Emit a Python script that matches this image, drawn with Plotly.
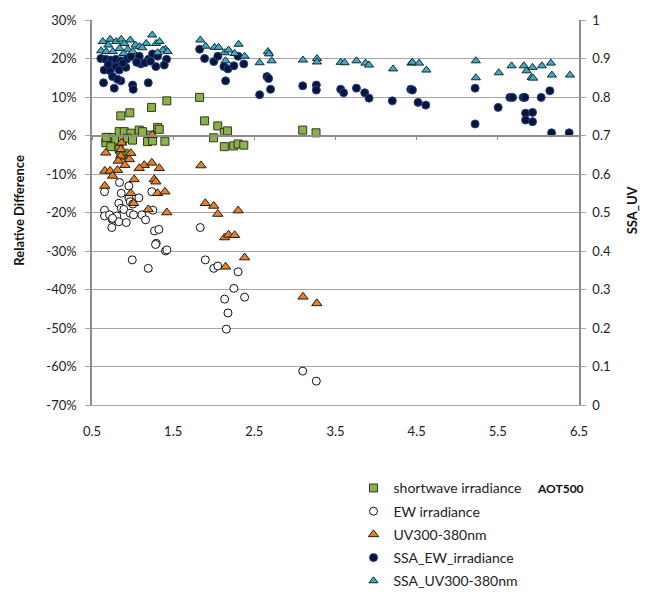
import plotly.graph_objects as go

# ---- data ----
sw_x = [0.855,0.966,1.234,1.422,0.835,0.897,0.978,1.082,1.123,1.225,1.308,1.329,0.691,0.74,0.793,0.876,0.938,0.999,1.184,1.246,1.398,0.67,0.732,0.835,0.897,0.855,0.675,1.826,1.887,2.05,1.998,2.13,2.17,2.13,2.245,2.30,2.37,3.096,3.26]
sw_y = [5.1,5.9,7.3,9.0,1.0,1.0,0.6,1.4,1.0,0.1,2.1,1.6,-0.5,-0.5,-1.2,-1.0,-0.7,-1.2,-1.6,-1.4,-1.5,-1.9,-2.9,-3.6,-4.6,-5.3,-0.5,9.9,3.8,2.5,-0.6,0.8,1.2,-2.9,-2.7,-2.2,-2.5,1.4,0.7]

ew_x = [0.654,0.839,0.954,0.86,1.077,0.954,0.971,0.83,0.86,0.892,1.003,1.237,1.25,0.654,0.654,0.716,0.749,0.806,0.83,0.922,0.744,0.971,1.012,1.114,1.16,1.27,1.324,1.292,1.283,1.406,1.422,0.996,1.193,0.753,1.834,1.896,2.0,2.05,2.30,2.248,2.134,2.38,2.175,2.155,3.096,3.264]
ew_y = [-14.6,-12.2,-13.1,-15.0,-16.2,-16.2,-17.2,-17.6,-18.9,-19.2,-17.8,-14.6,-19.4,-19.4,-20.9,-20.6,-21.8,-20.9,-22.4,-22.6,-23.9,-20.2,-20.6,-20.6,-21.9,-24.8,-24.4,-28.0,-28.3,-30.0,-29.7,-32.3,-34.5,-21.5,-23.9,-32.3,-34.5,-33.9,-35.4,-39.7,-42.5,-42.0,-46.1,-50.3,-61.2,-63.8]

uv_x = [0.864,1.242,0.67,0.855,0.978,0.855,0.823,0.959,0.905,1.144,1.237,1.082,1.329,0.658,0.724,0.814,0.753,1.02,1.267,1.287,1.842,0.658,0.978,1.308,1.398,1.012,1.193,1.422,1.896,2.0,2.05,2.30,2.134,2.183,2.257,2.38,2.146,3.10,3.27]
uv_y = [-1.9,0.1,-4.5,-3.6,-4.6,-5.3,-6.6,-6.2,-7.7,-7.7,-7.1,-8.5,-8.5,-9.2,-9.2,-9.0,-10.5,-11.4,-11.4,-12.0,-7.8,-13.1,-15.0,-15.0,-14.6,-17.6,-19.2,-20.0,-17.6,-18.3,-20.4,-19.5,-26.5,-25.8,-25.9,-31.7,-34.1,-41.9,-43.6]

ssa_ew_x = [0.609,0.67,0.732,0.793,0.855,0.929,0.978,1.082,1.197,1.246,1.308,1.419,0.65,0.724,0.793,0.835,0.917,1.102,1.151,1.287,1.39,0.753,0.855,0.814,0.642,0.774,1.0,1.008,1.193,0.70,0.88,1.05,1.22,
            1.826,1.887,2.0,2.05,2.125,2.175,2.248,2.30,2.37,2.146,2.565,2.655,2.676,2.70,3.096,3.264,3.264,3.564,3.60,3.758,3.86,3.913,4.20,4.427,4.448,4.517,4.612,5.22,5.22,5.504,5.648,5.681,5.812,5.833,5.842,5.928,5.842,5.928,6.034,6.141,6.162,6.379]
ssa_ew_y = [0.900,0.898,0.896,0.898,0.894,0.898,0.905,0.906,0.898,0.912,0.906,0.898,0.870,0.868,0.879,0.870,0.877,0.886,0.889,0.879,0.883,0.853,0.842,0.846,0.837,0.823,0.831,0.820,0.837,0.885,0.888,0.890,0.893,
            0.924,0.900,0.892,0.906,0.879,0.873,0.881,0.906,0.886,0.842,0.806,0.853,0.848,0.820,0.829,0.831,0.818,0.820,0.811,0.823,0.811,0.797,0.790,0.820,0.818,0.786,0.779,0.823,0.730,0.773,0.799,0.799,0.799,0.799,0.758,0.760,0.740,0.736,0.799,0.816,0.707,0.707]

ssa_uv_x = [0.633,0.724,0.798,0.86,0.90,0.971,1.036,1.086,1.168,1.242,1.29,1.332,1.406,0.613,0.675,0.757,0.839,0.941,1.003,1.373,0.888,1.308,1.431,1.12,0.70,
            1.834,1.90,2.01,2.06,2.134,2.183,2.257,2.306,2.38,2.146,2.565,2.668,2.68,2.713,3.10,3.272,3.272,3.564,3.613,3.758,3.869,3.913,4.21,4.436,4.448,4.53,4.62,5.229,5.229,5.512,5.669,5.82,5.854,5.928,5.916,5.935,6.043,6.154,6.166,6.388]
ssa_uv_y = [0.944,0.950,0.944,0.950,0.939,0.948,0.935,0.931,0.939,0.961,0.939,0.944,0.924,0.920,0.918,0.918,0.926,0.924,0.918,0.922,0.913,0.915,0.918,0.928,0.935,
            0.948,0.932,0.929,0.929,0.915,0.922,0.913,0.937,0.906,0.894,0.889,0.918,0.912,0.894,0.896,0.900,0.891,0.890,0.889,0.894,0.888,0.883,0.873,0.888,0.890,0.888,0.870,0.894,0.850,0.863,0.881,0.881,0.868,0.877,0.851,0.849,0.881,0.888,0.857,0.857]

x_ticks = [0.5, 1.5, 2.5, 3.5, 4.5, 5.5, 6.5]
left_ticks = [30, 20, 10, 0, -10, -20, -30, -40, -50, -60, -70]
right_ticks = [0, 0.1, 0.2, 0.3, 0.4, 0.5, 0.6, 0.7, 0.8, 0.9, 1]

FONT = "Lato"
AX = "#8C8C8C"
GRID = "#A6A6A6"
TXT = "#222222"

fig = go.Figure()
fig.add_trace(go.Scatter(x=sw_x, y=sw_y, mode="markers", name="shortwave irradiance",
                         legendgroup="a",
                         marker=dict(symbol="square", size=8, color="#8DB04F",
                                     line=dict(color="#2E3A16", width=1))))
fig.add_trace(go.Scatter(x=ew_x, y=ew_y, mode="markers", name="EW irradiance",
                         legendgroup="b",
                         marker=dict(symbol="circle", size=8, color="white",
                                     line=dict(color="#111111", width=1))))
fig.add_trace(go.Scatter(x=uv_x, y=uv_y, mode="markers", name="UV300-380nm",
                         legendgroup="c",
                         marker=dict(symbol="triangle-up", size=9, color="#E3812F",
                                     line=dict(color="#2A1A0A", width=1))))
fig.add_trace(go.Scatter(x=ssa_ew_x, y=ssa_ew_y, mode="markers", name="SSA_EW_irradiance",
                         yaxis="y2", legendgroup="d",
                         marker=dict(symbol="circle", size=8, color="#0A1438",
                                     line=dict(color="#23408E", width=1))))
fig.add_trace(go.Scatter(x=ssa_uv_x, y=ssa_uv_y, mode="markers", name="SSA_UV300-380nm",
                         yaxis="y2", legendgroup="e",
                         marker=dict(symbol="triangle-up", size=8, color="#45A9C2",
                                     line=dict(color="#102A33", width=1))))
# invisible trace so the overlay axis (x axis crossing at 0%) is drawn
fig.add_trace(go.Scatter(x=[0.5], y=[None], xaxis="x2", showlegend=False,
                         hoverinfo="skip", mode="markers"))

fig.update_layout(
    width=649, height=592,
    margin=dict(l=84, r=78, t=12, b=195, autoexpand=False),
    paper_bgcolor="white", plot_bgcolor="white",
    font=dict(family=FONT, size=13, color=TXT),
    showlegend=True,
    legend=dict(x=0.537, y=-0.175, xanchor="left", yanchor="top",
                orientation="v", traceorder="grouped", tracegroupgap=2,
                font=dict(family=FONT, size=14, color=TXT),
                itemwidth=30, bgcolor="rgba(0,0,0,0)"),
    xaxis=dict(range=[0.5, 6.5], tickvals=x_ticks, ticktext=[str(v) for v in x_ticks],
               showgrid=False, zeroline=False, showline=True, linecolor=GRID, linewidth=1,
               ticks="", ticklabelstandoff=14, tickfont=dict(family=FONT, size=13, color=TXT)),
    xaxis2=dict(range=[0.5, 6.5], overlaying="x", anchor="free", position=0.7,
                tickvals=x_ticks, showticklabels=False, ticks="outside", ticklen=4,
                tickcolor=AX, showline=True, linecolor=AX, linewidth=1.5,
                showgrid=False, zeroline=False),
    yaxis=dict(range=[-70, 30], tickvals=left_ticks, ticktext=[f"{v}%" for v in left_ticks],
               showgrid=True, gridcolor=GRID, gridwidth=1, zeroline=False,
               showline=True, linecolor=AX, linewidth=1.5, ticks="outside", ticklen=5,
               tickcolor=GRID, ticklabelstandoff=6, tickfont=dict(family=FONT, size=13, color=TXT)),
    yaxis2=dict(range=[0, 1], tickvals=right_ticks, ticktext=[f"{v:g}" for v in right_ticks],
                overlaying="y", side="right", showgrid=False, zeroline=False,
                showline=True, linecolor=AX, linewidth=1.5, ticks="outside", ticklen=5,
                tickcolor=GRID, ticklabelstandoff=4, tickfont=dict(family=FONT, size=13, color=TXT)),
    annotations=[
        dict(text="<b>Relative Difference</b>", xref="paper", yref="paper",
             x=-0.149, y=0.506, xanchor="center", yanchor="middle", textangle=-90,
             showarrow=False, font=dict(family=FONT, size=13, color="#111111")),
        dict(text="<b>SSA_UV</b>", xref="paper", yref="paper",
             x=1.109, y=0.506, xanchor="center", yanchor="middle", textangle=-90,
             showarrow=False, font=dict(family=FONT, size=13, color="#111111")),
        dict(text="<b>AOT500</b>", xref="paper", yref="paper",
             x=0.961, y=-0.2156, xanchor="center", yanchor="middle",
             showarrow=False, font=dict(family=FONT, size=12, color="#111111")),
    ],
)

fig.write_html("out.html")
